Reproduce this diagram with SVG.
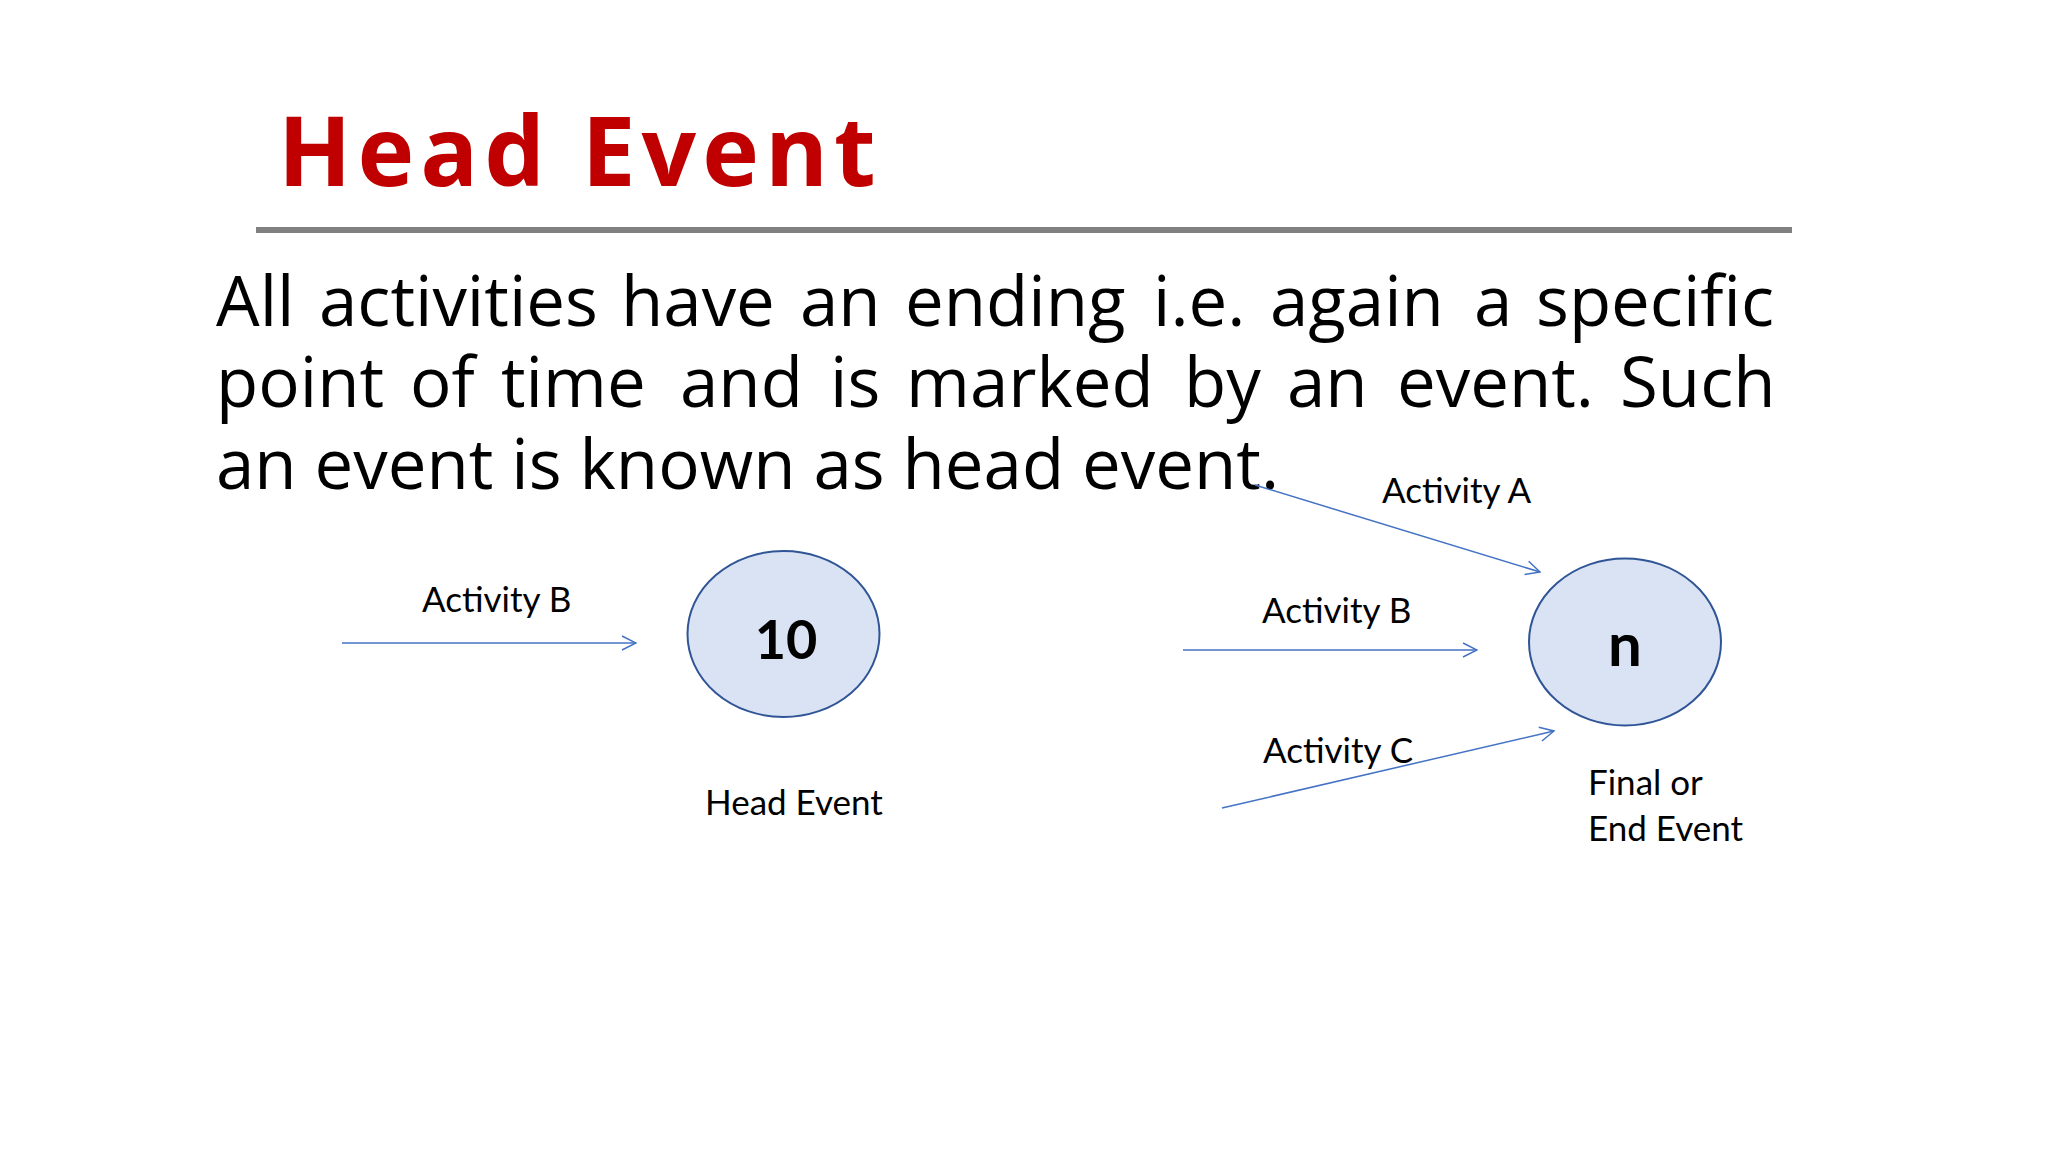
<svg xmlns="http://www.w3.org/2000/svg" width="2048" height="1152" viewBox="0 0 2048 1152">
<style>
.title{font-family:"Open Sans","Noto Sans",sans-serif;font-weight:700;font-size:96px;fill:#C00000;letter-spacing:6px}
.body{font-family:"Open Sans","Noto Sans",sans-serif;font-size:69px;fill:#000}
.lbl{font-family:Lato,"Liberation Sans",sans-serif;font-size:35px;fill:#000}
.num{font-family:Lato,"Liberation Sans",sans-serif;font-weight:700;fill:#000;text-anchor:middle}
.evt{fill:#DAE3F3;stroke:#2F5597;stroke-width:2}
.arr{stroke:#4472C4;stroke-width:1.5;fill:none;marker-end:url(#ah)}
</style>
<defs>
<marker id="ah" viewBox="0 0 16 16" refX="15" refY="8" markerWidth="16" markerHeight="16" markerUnits="userSpaceOnUse" orient="auto">
<path d="M1,1 L15,8 L1,15" fill="none" stroke="#4472C4" stroke-width="1.5"/>
</marker>
</defs>
<rect width="2048" height="1152" fill="#fff"/>
<g id="title">
<text class="title" x="278" y="186">Head Event</text>
<rect x="256" y="227" width="1536" height="6" fill="#808080"/>
</g>
<g id="body-text">
<text class="body" y="326"><tspan x="216">All</tspan><tspan x="319">activities</tspan><tspan x="621">have</tspan><tspan x="800">an</tspan><tspan x="905">ending</tspan><tspan x="1153">i.e.</tspan><tspan x="1270">again</tspan><tspan x="1474">a</tspan><tspan x="1536">specific</tspan></text>
<text class="body" y="407"><tspan x="216">point</tspan><tspan x="410">of</tspan><tspan x="501">time</tspan><tspan x="680">and</tspan><tspan x="830">is</tspan><tspan x="906">marked</tspan><tspan x="1184">by</tspan><tspan x="1287">an</tspan><tspan x="1397">event.</tspan><tspan x="1620">Such</tspan></text>
<text class="body" x="216" y="489">an event is known as head event.</text>
</g>
<g id="connectors">
<line class="arr" x1="342" y1="643" x2="636" y2="643"/>
<line class="arr" x1="1255" y1="485" x2="1540" y2="572"/>
<line class="arr" x1="1183" y1="650" x2="1477" y2="650"/>
<line class="arr" x1="1222" y1="808" x2="1554" y2="731"/>
</g>
<g id="connector-labels">
<text class="lbl" x="422" y="612">Activity B</text>
<text class="lbl" x="1382" y="503">Activity A</text>
<text class="lbl" x="1262" y="623">Activity B</text>
<text class="lbl" x="1263" y="763">Activity C</text>
</g>
<g id="node-10">
<ellipse class="evt" cx="783.5" cy="634" rx="96" ry="83"/>
<text class="num" x="786" y="659" font-size="54">10</text>
<text class="lbl" x="705" y="815">Head Event</text>
</g>
<g id="node-n">
<ellipse class="evt" cx="1625" cy="642" rx="96" ry="83.5"/>
<text class="num" x="1625" y="666" font-size="60">n</text>
<text class="lbl" x="1588" y="795">Final or</text>
<text class="lbl" x="1588" y="841">End Event</text>
</g>
</svg>
